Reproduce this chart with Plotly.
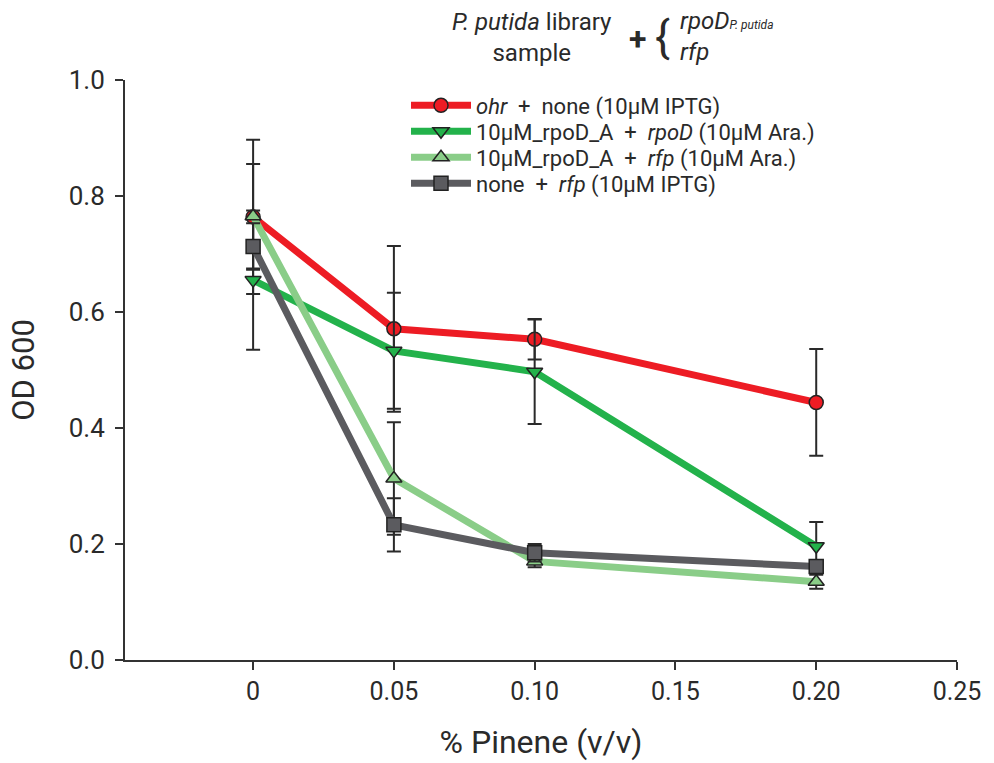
import plotly.graph_objects as go

# Pinene concentration (% v/v)
pinene = [0, 0.05, 0.10, 0.20]

# OD600 means and error bars per strain / plasmid combination
ohr_none = [0.764, 0.571, 0.553, 0.444]
ohr_none_err = [0.133, 0.143, 0.035, 0.092]

rpoDA_rpoD = [0.655, 0.533, 0.497, 0.196]
rpoDA_rpoD_err = [0.12, 0.10, 0.09, 0.042]

rpoDA_rfp = [0.765, 0.313, 0.170, 0.135]
rpoDA_rfp_err = [0.09, 0.097, 0.01, 0.012]

none_rfp = [0.713, 0.233, 0.185, 0.161]
none_rfp_err = [0.04, 0.046, 0.015, 0.01]

x_ticks = [0, 0.05, 0.10, 0.15, 0.20, 0.25]
x_ticktext = ["0", "0.05", "0.10", "0.15", "0.20", "0.25"]
y_ticks = [0.0, 0.2, 0.4, 0.6, 0.8, 1.0]
y_ticktext = ["0.0", "0.2", "0.4", "0.6", "0.8", "1.0"]

FONT = "Roboto"
TXT = "#2a2a2a"

series = [
    ("<i>ohr</i>  +  none (10µM IPTG)", ohr_none, ohr_none_err, "#ED1C24", "circle"),
    ("10µM_rpoD_A  +  <i>rpoD</i> (10µM Ara.)", rpoDA_rpoD, rpoDA_rpoD_err, "#23B24B", "triangle-down"),
    ("10µM_rpoD_A  +  <i>rfp</i> (10µM Ara.)", rpoDA_rfp, rpoDA_rfp_err, "#8ACD88", "triangle-up"),
    ("none  +  <i>rfp</i> (10µM IPTG)", none_rfp, none_rfp_err, "#5B5B5F", "square"),
]
legend_ids = ["legend", "legend2", "legend3", "legend4"]

fig = go.Figure()
for (name, y, err, color, sym), lg in zip(series, legend_ids):
    fig.add_trace(go.Scatter(
        x=pinene, y=y, name=name, mode="lines+markers", legend=lg,
        line=dict(color=color, width=7),
        marker=dict(symbol=sym, size=14, color=color,
                    line=dict(color="#222222", width=1.5)),
        error_y=dict(type="data", array=err, visible=True,
                     color="#2a2a2a", thickness=2, width=7),
    ))

# one compact legend per row so the entries sit tightly stacked
PLOT_TOP, PLOT_BOTTOM, PLOT_LEFT, PLOT_W = 80, 660, 125, 832
row_px = [105.5, 131.5, 157.5, 183.5]
legend_common = dict(
    x=(406 - PLOT_LEFT) / PLOT_W, xanchor="left", yanchor="middle",
    font=dict(family=FONT, size=22, color=TXT),
    bgcolor="rgba(0,0,0,0)", itemwidth=60, borderwidth=0,
)
legend_layout = {}
for lg, r in zip(legend_ids, row_px):
    legend_layout[lg] = dict(legend_common, y=(PLOT_BOTTOM - r) / (PLOT_BOTTOM - PLOT_TOP))

fig.update_layout(
    width=994, height=763,
    margin=dict(l=125, r=37, t=80, b=103, autoexpand=False),
    paper_bgcolor="white", plot_bgcolor="white",
    font=dict(family=FONT, color=TXT),
    showlegend=True,
    xaxis=dict(
        range=[-0.0455, 0.25], tickvals=x_ticks, ticktext=x_ticktext,
        showgrid=False, zeroline=False, automargin=False,
        showline=True, linecolor="#333333", linewidth=2,
        ticks="outside", ticklen=8, tickwidth=2, tickcolor="#333333",
        tickfont=dict(family=FONT, size=25, color=TXT),
        title=dict(text="% Pinene (v/v)", font=dict(family=FONT, size=32, color=TXT),
                   standoff=26),
    ),
    yaxis=dict(
        range=[0, 1.0], tickvals=y_ticks, ticktext=y_ticktext,
        showgrid=False, zeroline=False, automargin=False,
        showline=True, linecolor="#333333", linewidth=2,
        ticks="outside", ticklen=8, tickwidth=2, tickcolor="#333333",
        ticklabelstandoff=5,
        tickfont=dict(family=FONT, size=26, color=TXT),
        title=dict(text="OD 600", font=dict(family=FONT, size=31, color=TXT),
                   standoff=25),
    ),
    **legend_layout,
)


def py(px):
    return (PLOT_BOTTOM - px) / (PLOT_BOTTOM - PLOT_TOP)


def px_x(px):
    return (px - PLOT_LEFT) / PLOT_W


# Header describing the sample composition
fig.add_annotation(xref="paper", yref="paper", x=px_x(532), y=py(37), yanchor="middle",
                   text="<i>P. putida</i> library<br>sample", showarrow=False,
                   font=dict(family=FONT, size=24, color=TXT), align="center")
fig.add_annotation(xref="paper", yref="paper", x=px_x(637), y=py(39), yanchor="middle",
                   text="<b>+</b>", showarrow=False,
                   font=dict(family=FONT, size=32, color=TXT))
fig.add_annotation(xref="paper", yref="paper", x=px_x(662), y=py(37), yanchor="middle",
                   text="{", showarrow=False,
                   font=dict(family=FONT, size=44, color=TXT))
fig.add_annotation(xref="paper", yref="paper", x=px_x(678), y=py(36), xanchor="left",
                   yanchor="middle",
                   text="<i>rpoD</i><span style='font-size:12px'><i>P. putida</i></span><br><i>rfp</i>",
                   showarrow=False, align="left",
                   font=dict(family=FONT, size=24, color=TXT))

fig.write_html("out.html")
